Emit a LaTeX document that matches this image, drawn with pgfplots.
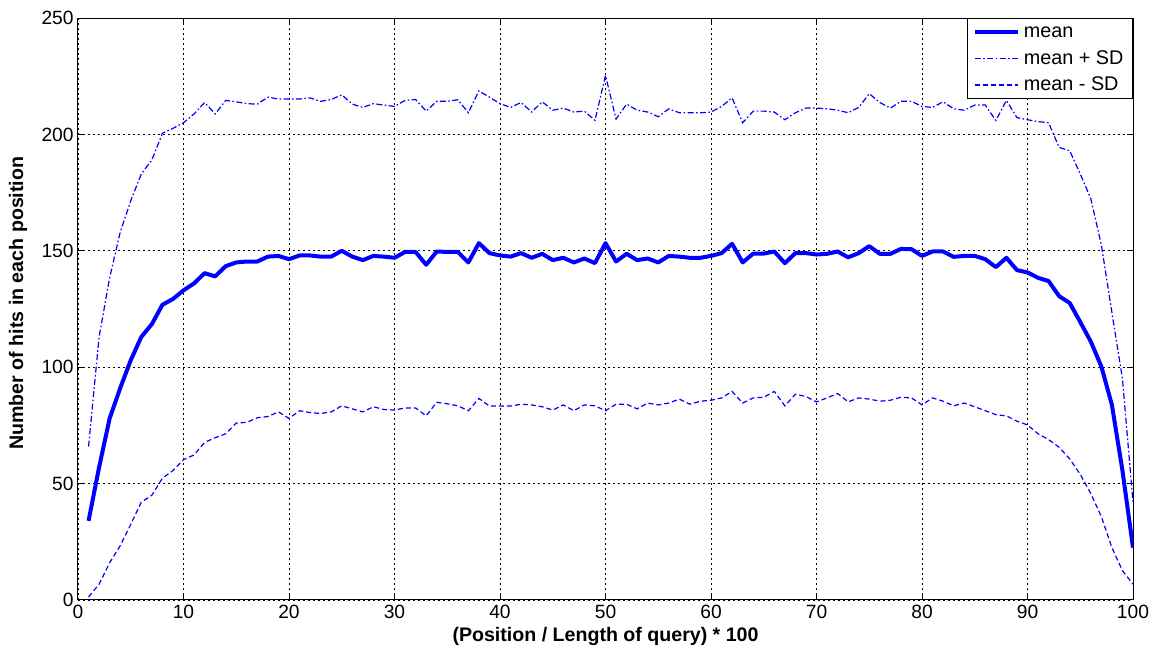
\documentclass[border=0pt]{standalone}
\usepackage{fontspec}
\setmainfont{Liberation Sans}
\usepackage{pgfplots}
\usepackage{pgfplotstable}
\pgfplotsset{compat=1.18}

\pgfplotstableread{
x mean plus minus
1 34 65.9 1.3
2 57 113 6.8
3 78 138.4 16
4 91 158 23.3
5 103 171.5 32.5
6 113 183 42
7 118.5 189 45
8 126.8 200.5 52.3
9 129.3 202.6 55.6
10 133 205 60.3
11 136 208.8 62.3
12 140.4 213.7 67.7
13 139 208.8 69.7
14 143.4 214.6 71.4
15 145 214 76
16 145.4 213.2 76.3
17 145.4 213 78.3
18 147.5 216 78.8
19 147.8 215.2 80.8
20 146.4 215.2 78
21 148 215.2 81.3
22 148 215.7 80.5
23 147.5 214.2 80.1
24 147.5 215 80.8
25 150 217 83.4
26 147.5 213 82.1
27 146 211.6 80.8
28 147.8 213.2 83
29 147.5 212.6 81.8
30 147 212 81.6
31 149.5 214.6 82.5
32 149.5 215 82.5
33 144 210 79.1
34 149.7 214.2 84.9
35 149.5 214.2 84.3
36 149.5 214.9 83.4
37 145 209.3 81.3
38 153.3 218.7 86.6
39 149 216 83.3
40 148 213.2 83.3
41 147.5 211.6 83.3
42 149 213.7 84.1
43 147 209.6 83.8
44 148.7 214 83
45 146 210.4 81.6
46 147 211.3 83.8
47 145 209.6 81.3
48 146.7 210 83.8
49 144.7 206 83.4
50 153.3 225.3 81.3
51 145.4 206.6 84.1
52 148.7 213 84.1
53 146 210.4 82.1
54 146.7 209.6 84.6
55 145 207.6 83.8
56 147.8 211 84.6
57 147.5 209.3 86.3
58 147 209.3 84.1
59 147 209.3 85.4
60 147.8 209.6 85.8
61 149 212 86.8
62 153 215.7 89.6
63 145 205 84.6
64 148.8 210 86.8
65 148.8 210 87.1
66 149.7 209.6 89.6
67 144.7 206.3 83.4
68 149 209.3 88.4
69 149 211.3 87.4
70 148.4 211.3 85.1
71 148.7 211 86.8
72 149.7 210.4 88.7
73 147.2 209.3 85.1
74 149 211.6 86.8
75 152 217.5 86.3
76 148.7 213.7 85.4
77 148.7 211.3 85.8
78 150.8 214.2 87.1
79 150.7 214.2 86.8
80 147.8 212 83.8
81 149.7 211.6 86.8
82 149.7 214 85.4
83 147.4 211 83.4
84 147.8 210.4 84.6
85 147.8 212.6 83
86 146.4 212.6 81.3
87 143 206 79.6
88 147 214.6 79.1
89 141.7 207.2 76.8
90 140.7 206.3 75.2
91 138.4 205.5 71.4
92 137 205 68.9
93 130.5 194.4 65.6
94 127.6 193 60.6
95 119.4 183 54
96 111 172.4 45.7
97 100.3 152.5 35.8
98 83.8 123.5 22.5
99 55.6 95 12.6
100 22.5 42 6.8
}\datatable

\definecolor{mblue}{RGB}{0,0,255}
\newcommand{\lstrut}{\rule[-2pt]{0pt}{9.2pt}}

\begin{document}
\begin{tikzpicture}
\begin{axis}[
  scale only axis,
  width=527.5pt, height=291pt,
  xmin=0, xmax=100, ymin=0, ymax=250,
  xtick={0,10,...,100}, ytick={0,50,...,250},
  grid=major,
  grid style={black, line width=0.4pt, dash pattern=on 1pt off 1.5pt},
  axis line style={black, line width=0.5pt},
  tick align=inside,
  major tick length=3pt,
  tick style={black, line width=0.5pt},
  /pgf/number format/assume math mode=true,
  tick label style={font=\fontsize{9.6}{11}\selectfont},
  yticklabel style={inner sep=2pt},
  xticklabel style={inner sep=2.5pt},
  xlabel={\bfseries (Position / Length of query) * 100},
  ylabel={\bfseries Number of hits in each position},
  label style={font=\fontsize{9.8}{11}\selectfont},
  xlabel style={at={(axis description cs:0.5,-0.063)}, anchor=center},
  ylabel style={at={(axis description cs:-0.0569,0.51)}, anchor=center},
  legend style={at={(1,1)}, anchor=north east, draw=black, line width=0.5pt,
    font=\fontsize{9.9}{11}\selectfont, row sep=0.5pt,
    inner xsep=2.5pt, inner ysep=0.5pt,
    cells={inner sep=1.5pt}},
  legend cell align=left,
  legend image code/.code={\draw[#1, line width=0.6pt] (0pt,0pt) -- (21.5pt,0pt);},
]
\coordinate (sw) at (rel axis cs:0,0);
\coordinate (ne) at (rel axis cs:1,1);
\addplot[mblue, line width=2pt, line join=round, legend image code/.code={\draw[mblue, line width=2pt] (0pt,0pt) -- (21.5pt,0pt);}] table[x=x,y=mean]{\datatable};
\addlegendentry{\lstrut mean}
\addplot[mblue, line width=0.6pt, dash pattern=on 3pt off 1.2pt on 0.8pt off 1.2pt,
  legend image code/.code={\draw[mblue, line width=0.6pt, dash pattern=on 3pt off 1.2pt on 0.8pt off 1.2pt] (0pt,0pt) -- (21.5pt,0pt);}] table[x=x,y=plus]{\datatable};
\addlegendentry{\lstrut mean + SD}
\addplot[mblue, line width=0.6pt, dash pattern=on 2.5pt off 1.5pt,
  legend image code/.code={\draw[mblue, line width=0.6pt, dash pattern=on 2.5pt off 1.5pt] (0pt,0pt) -- (21.5pt,0pt);}] table[x=x,y=minus]{\datatable};
\addlegendentry{\lstrut mean - SD}
\end{axis}
\pgfresetboundingbox
\useasboundingbox ([shift={(-39pt,-24pt)}]sw) rectangle ([shift={(9.5pt,9pt)}]ne);
\end{tikzpicture}
\end{document}
